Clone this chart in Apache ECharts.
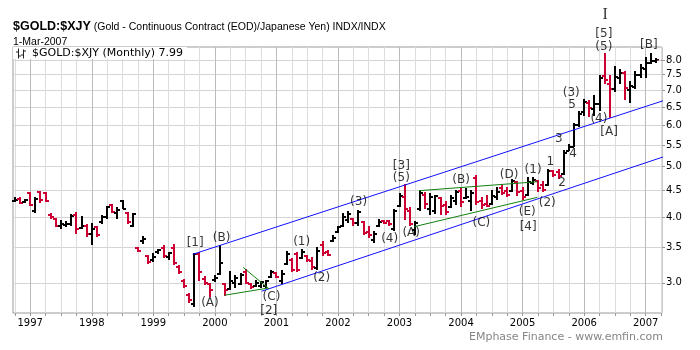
<!DOCTYPE html>
<html>
<head>
<meta charset="utf-8">
<script src="https://cdn.jsdelivr.net/npm/echarts@6/dist/echarts.min.js"></script>
<style>
  html, body { margin: 0; padding: 0; background: #fff; }
  #chart { width: 700px; height: 350px; }
</style>
</head>
<body>
<div id="chart"></div>
<script>
// Gold priced in Japanese yen, monthly OHLC bars, Oct 1996 - Mar 2007
const symbol = '$GOLD:$XJY';
const description = '(Gold - Continuous Contract (EOD)/Japanese Yen) INDX/INDX';
const asOf = '1-Mar-2007';
const footer = 'EMphase Finance - www.emfin.com';

const months = [
  '1996-10','1996-11','1996-12',
  '1997-01','1997-02','1997-03','1997-04','1997-05','1997-06','1997-07','1997-08','1997-09','1997-10','1997-11','1997-12',
  '1998-01','1998-02','1998-03','1998-04','1998-05','1998-06','1998-07','1998-08','1998-09','1998-10','1998-11','1998-12',
  '1999-01','1999-02','1999-03','1999-04','1999-05','1999-06','1999-07','1999-08','1999-09','1999-10','1999-11','1999-12',
  '2000-01','2000-02','2000-03','2000-04','2000-05','2000-06','2000-07','2000-08','2000-09','2000-10','2000-11','2000-12',
  '2001-01','2001-02','2001-03','2001-04','2001-05','2001-06','2001-07','2001-08','2001-09','2001-10','2001-11','2001-12',
  '2002-01','2002-02','2002-03','2002-04','2002-05','2002-06','2002-07','2002-08','2002-09','2002-10','2002-11','2002-12',
  '2003-01','2003-02','2003-03','2003-04','2003-05','2003-06','2003-07','2003-08','2003-09','2003-10','2003-11','2003-12',
  '2004-01','2004-02','2004-03','2004-04','2004-05','2004-06','2004-07','2004-08','2004-09','2004-10','2004-11','2004-12',
  '2005-01','2005-02','2005-03','2005-04','2005-05','2005-06','2005-07','2005-08','2005-09','2005-10','2005-11','2005-12',
  '2006-01','2006-02','2006-03','2006-04','2006-05','2006-06','2006-07','2006-08','2006-09','2006-10','2006-11','2006-12',
  '2007-01','2007-02','2007-03'
];

const opens = [
  4.30, 4.33, 4.28, 4.46, 4.12, 4.48, 4.45, 4.05, 3.97, 3.85, 3.87, 3.88,
  4.05, 3.82, 3.86, 3.72, 3.84, 3.92, 4.00, 4.22, 4.08, 4.30, 4.08, 3.86,
  3.49, 3.60, 3.37, 3.31, 3.43, 3.50, 3.36, 3.50, 3.22, 3.02, 2.84, 2.73,
  3.40, 3.05, 2.98, 3.03, 3.12, 2.98, 2.92, 3.00, 2.98, 3.15, 2.98, 2.96,
  2.96, 2.96, 3.08, 3.13, 3.02, 3.26, 3.32, 3.40, 3.35, 3.37, 3.30, 3.20,
  3.55, 3.44, 3.60, 3.75, 3.86, 3.95, 3.97, 3.90, 3.92, 3.75, 3.62, 3.85,
  3.93, 3.93, 3.80, 4.20, 4.38, 4.12, 3.78, 4.15, 4.42, 4.15, 4.12, 4.35,
  4.22, 4.18, 4.30, 4.50, 4.36, 4.30, 4.75, 4.30, 4.25, 4.24, 4.38, 4.55,
  4.50, 4.50, 4.68, 4.50, 4.42, 4.65, 4.70, 4.62, 4.62, 4.90, 4.88, 4.85,
  5.36, 5.45, 6.00, 6.35, 6.62, 6.45, 6.60, 7.45, 7.20, 7.05, 7.40, 7.55,
  7.00, 7.10, 7.50, 7.70, 7.90, 7.96
];
const highs = [
  4.38, 4.37, 4.34, 4.48, 4.38, 4.50, 4.47, 4.07, 3.99, 3.95, 3.93, 4.06,
  4.09, 4.02, 3.88, 3.90, 3.86, 4.04, 4.21, 4.24, 4.18, 4.32, 4.10, 4.08,
  3.51, 3.68, 3.39, 3.42, 3.48, 3.54, 3.44, 3.56, 3.24, 3.05, 2.87, 3.42,
  3.43, 3.09, 3.00, 3.10, 3.54, 3.00, 3.16, 3.10, 3.13, 3.19, 3.00, 3.04,
  3.02, 3.03, 3.17, 3.14, 3.17, 3.45, 3.34, 3.43, 3.48, 3.39, 3.36, 3.51,
  3.61, 3.47, 3.70, 3.86, 4.07, 4.11, 3.99, 4.13, 3.94, 3.85, 3.76, 3.97,
  3.95, 3.96, 4.15, 4.45, 4.63, 4.18, 3.93, 4.52, 4.48, 4.45, 4.42, 4.38,
  4.30, 4.41, 4.51, 4.55, 4.55, 4.52, 4.82, 4.38, 4.41, 4.51, 4.57, 4.62,
  4.58, 4.73, 4.70, 4.58, 4.78, 4.78, 4.72, 4.70, 4.95, 4.92, 4.96, 5.38,
  5.52, 6.05, 6.40, 6.75, 6.70, 6.85, 7.48, 8.25, 7.50, 7.80, 7.70, 7.62,
  7.30, 7.62, 7.85, 8.10, 8.25, 8.08
];
const lows = [
  4.28, 4.24, 4.26, 4.21, 4.08, 4.27, 4.28, 3.97, 3.84, 3.80, 3.83, 3.85,
  3.72, 3.80, 3.67, 3.54, 3.67, 3.89, 3.98, 4.07, 3.97, 4.15, 3.89, 3.84,
  3.44, 3.56, 3.26, 3.29, 3.41, 3.34, 3.31, 3.24, 3.12, 2.93, 2.75, 2.70,
  3.02, 2.97, 2.82, 3.01, 3.10, 2.83, 2.91, 2.93, 2.97, 2.98, 2.92, 2.95,
  2.93, 2.93, 3.07, 3.06, 2.99, 3.24, 3.15, 3.15, 3.33, 3.28, 3.17, 3.17,
  3.38, 3.37, 3.59, 3.74, 3.84, 3.90, 3.86, 3.86, 3.70, 3.65, 3.57, 3.83,
  3.88, 3.86, 3.76, 4.18, 3.95, 3.85, 3.70, 4.12, 4.15, 4.05, 4.06, 4.05,
  4.05, 4.17, 4.22, 4.18, 4.34, 4.12, 4.22, 4.15, 4.19, 4.22, 4.31, 4.41,
  4.38, 4.48, 4.40, 4.31, 4.40, 4.62, 4.48, 4.48, 4.60, 4.78, 4.74, 4.82,
  5.35, 5.45, 5.95, 6.25, 6.22, 6.25, 6.40, 7.20, 6.20, 6.95, 7.20, 6.72,
  6.62, 7.05, 7.40, 7.38, 7.85, 7.90
];
const closes = [
  4.31, 4.26, 4.31, 4.23, 4.33, 4.31, 4.30, 4.00, 3.86, 3.88, 3.89, 4.03,
  3.80, 3.86, 3.72, 3.80, 3.70, 4.00, 4.18, 4.10, 4.14, 4.16, 3.92, 4.06,
  3.45, 3.63, 3.29, 3.36, 3.46, 3.37, 3.42, 3.27, 3.14, 2.96, 2.78, 3.40,
  3.15, 3.00, 2.90, 3.07, 3.27, 2.90, 3.02, 3.06, 3.10, 3.00, 2.95, 3.00,
  3.01, 3.02, 3.14, 3.08, 3.12, 3.40, 3.18, 3.17, 3.44, 3.32, 3.22, 3.45,
  3.42, 3.39, 3.66, 3.84, 4.00, 4.06, 3.90, 4.10, 3.74, 3.70, 3.72, 3.92,
  3.90, 3.88, 4.12, 4.40, 4.15, 3.88, 3.91, 4.45, 4.25, 4.38, 4.40, 4.20,
  4.10, 4.35, 4.48, 4.28, 4.38, 4.45, 4.28, 4.22, 4.20, 4.40, 4.48, 4.45,
  4.42, 4.70, 4.48, 4.38, 4.68, 4.72, 4.55, 4.52, 4.90, 4.82, 4.80, 5.30,
  5.45, 6.00, 6.30, 6.65, 6.48, 6.60, 7.40, 7.32, 7.05, 7.42, 7.55, 7.08,
  7.12, 7.50, 7.72, 7.90, 7.96, 7.99
];

// Axis ticks
const priceTicks = [3.0, 3.5, 4.0, 4.5, 5.0, 5.5, 6.0, 6.5, 7.0, 7.5, 8.0];
const yearTicks = [1997, 1998, 1999, 2000, 2001, 2002, 2003, 2004, 2005, 2006, 2007];

// Trend channel and triangle boundaries: [decimal year, price]
const upperChannel = [[1999.64, 3.40], [2007.90, 7.06]];
const lowerChannel = [[2000.76, 2.89], [2007.90, 5.52]];
const triangle2000Lower = [[2000.16, 2.84], [2000.86, 2.93]];
const triangle2000Upper = [[2000.46, 3.21], [2000.88, 2.92]];
const triangle2004Upper = [[2003.32, 4.50], [2005.24, 4.68]];
const triangle2004Lower = [[2003.24, 3.84], [2005.24, 4.37]];

// Elliott wave annotations: [text, decimal year, price]
const waveLabels = [
  ['[1]', 1999.68, 3.57], ['(B)', 2000.11, 3.65], ['(A)', 1999.92, 2.74],
  ['(C)', 2000.92, 2.82], ['[2]', 2000.875, 2.645],
  ['(1)', 2001.41, 3.59], ['(2)', 2001.735, 3.06], ['(3)', 2002.335, 4.28],
  ['(4)', 2002.84, 3.64], ['[3]', 2003.03, 5.02], ['(5)', 2003.03, 4.76],
  ['(A)', 2003.19, 3.73], ['(B)', 2004.0, 4.72], ['(C)', 2004.33, 3.90],
  ['(D)', 2004.78, 4.82], ['(1)', 2005.17, 4.93], ['(E)', 2005.075, 4.10],
  ['[4]', 2005.09, 3.83], ['(2)', 2005.40, 4.26],
  ['1', 2005.45, 5.10], ['2', 2005.64, 4.65], ['3', 2005.59, 5.65],
  ['4', 2005.82, 5.29], ['5', 2005.805, 6.56], ['(3)', 2005.79, 6.92],
  ['(4)', 2006.24, 6.17], ['[A]', 2006.405, 5.83],
  ['(5)', 2006.32, 8.47], ['[5]', 2006.32, 8.97], ['[B]', 2007.05, 8.55]
];
const cycleLabel = ['I', 2006.34, 9.75];

const UP = '#000000';
const DOWN = '#cc0033';

const toYear = s => {
  const [y, m] = s.split('-').map(Number);
  return y + (m - 1) / 12;
};

// [x, open, high, low, close, isDown]
const ohlc = months.map((m, i) => [
  toYear(m), opens[i], highs[i], lows[i], closes[i],
  i > 0 && closes[i] < closes[i - 1] ? 1 : 0
]);

const lastClose = closes[closes.length - 1];
const seriesName = `${symbol} (Monthly) ${lastClose.toFixed(2)}`;

// Quarter grid lines; year lines are drawn darker
const quarterTicks = [1996.75];
yearTicks.forEach(y => { for (let q = 0; q < 4; q++) { if (y + q * 0.25 <= 2007.25) quarterTicks.push(y + q * 0.25); } });

const chart = echarts.init(document.getElementById('chart'), null, { renderer: 'canvas' });

const guide = (data, color) => ({
  type: 'line', data, symbol: 'none', clip: false, silent: true, z: 4,
  lineStyle: { color, width: 1 }, animation: false
});

chart.setOption({
  animation: false,
  textStyle: { fontFamily: 'DejaVu Sans' },
  grid: { left: 13, right: 38, top: 47, bottom: 37, show: true, borderColor: '#9a9a9a', borderWidth: 1 },
  legend: {
    show: true, left: 13, top: 47, selectedMode: false,
    backgroundColor: '#ffffff', padding: [1, 4, 0, 3], itemGap: 4,
    itemWidth: 10, itemHeight: 10,
    icon: 'path://M2,0h1v10h-1z M0,3h2v1h-2z M3,7h2v1h-2z M7,1h1v9h-1z M5,6h2v1h-2z M8,2h2v1h-2z',
    textStyle: { fontFamily: 'DejaVu Sans', fontSize: 11, color: '#000', padding: [0, 0, 0, 1] },
    data: [{ name: seriesName, itemStyle: { color: '#222' } }]
  },
  xAxis: {
    type: 'value', min: 1996.72, max: 2007.265,
    axisLine: { show: false },
    axisTick: { show: true, customValues: quarterTicks, length: 3, lineStyle: { color: '#999' } },
    axisLabel: {
      customValues: yearTicks, formatter: v => String(Math.round(v)),
      color: '#000', fontFamily: 'DejaVu Sans', fontSize: 10, margin: 5
    },
    splitLine: { show: true, lineStyle: { color: ['#dcdcdc', '#bcbcbc', '#dcdcdc', '#dcdcdc'], width: 1 } }
  },
  yAxis: {
    type: 'log', position: 'right', min: 2.626, max: 8.47,
    axisLine: { show: false },
    axisTick: { show: true, customValues: priceTicks, length: 3, lineStyle: { color: '#999' } },
    axisLabel: {
      customValues: priceTicks, formatter: v => Number(v).toFixed(1),
      color: '#000', fontFamily: 'DejaVu Sans', fontSize: 10, margin: 4
    },
    splitLine: { show: true, lineStyle: { color: '#d4d4d4', width: 1 } }
  },
  series: [
    {
      type: 'custom', name: seriesName, z: 3, clip: false,
      itemStyle: { color: '#222' },
      encode: { x: 0, y: [1, 2, 3, 4] },
      data: ohlc,
      renderItem: (params, api) => {
        const x = api.value(0);
        const pO = api.coord([x, api.value(1)]);
        const pH = api.coord([x, api.value(2)]);
        const pL = api.coord([x, api.value(3)]);
        const pC = api.coord([x, api.value(4)]);
        const cx = Math.round(pH[0]);
        const oy = Math.round(pO[1]);
        const cy = Math.round(pC[1]);
        const style = { stroke: api.value(5) ? DOWN : UP, lineWidth: 2, lineCap: 'butt' };
        return {
          type: 'group',
          children: [
            { type: 'line', shape: { x1: cx, y1: Math.round(pH[1]), x2: cx, y2: Math.round(pL[1]) }, style },
            { type: 'line', shape: { x1: cx - 3, y1: oy, x2: cx, y2: oy }, style },
            { type: 'line', shape: { x1: cx, y1: cy, x2: cx + 3, y2: cy }, style }
          ]
        };
      }
    },
    guide(upperChannel, '#1010ff'),
    guide(lowerChannel, '#1010ff'),
    guide(triangle2000Lower, '#108010'),
    guide(triangle2000Upper, '#108010'),
    guide(triangle2004Upper, '#108010'),
    guide(triangle2004Lower, '#108010'),
    {
      type: 'line', symbol: 'none', clip: false, silent: true, z: 4,
      data: [[toYear(months[months.length - 1]) + 0.02, lastClose], [2007.265, lastClose]],
      lineStyle: { color: '#c86080', width: 1, type: [2, 2] }
    },
    {
      type: 'scatter', z: 10, clip: false, silent: true,
      symbol: 'rect', symbolSize: 1, itemStyle: { color: 'rgba(0,0,0,0)' },
      label: {
        show: true, position: 'inside', formatter: '{b}',
        color: '#000', fontFamily: 'DejaVu Sans', fontSize: 12
      },
      data: waveLabels.map(([t, x, v]) => ({ name: t, value: [x, v] })).concat([{
        name: cycleLabel[0], value: [cycleLabel[1], cycleLabel[2]],
        label: { fontFamily: 'Liberation Serif', fontSize: 16 }
      }])
    }
  ],
  graphic: [
    {
      type: 'text', x: 13, y: 27, silent: true,
      style: {
        text: `{b|${symbol}}{n| ${description}}`,
        verticalAlign: 'middle', fill: '#000',
        rich: {
          b: { fontFamily: 'Liberation Sans', fontWeight: 'bold', fontSize: 12.5, fill: '#000' },
          n: { fontFamily: 'Liberation Sans', fontSize: 10.5, fill: '#000' }
        }
      }
    },
    {
      type: 'text', x: 13, y: 42, silent: true,
      style: { text: asOf, fontFamily: 'Liberation Sans', fontSize: 10.5, fill: '#000', verticalAlign: 'middle' }
    },
    {
      type: 'text', x: 663, y: 337, silent: true,
      style: { text: footer, fontFamily: 'DejaVu Sans', fontSize: 11, fill: '#858585', align: 'right', verticalAlign: 'middle' }
    }
  ]
});
</script>
</body>
</html>
